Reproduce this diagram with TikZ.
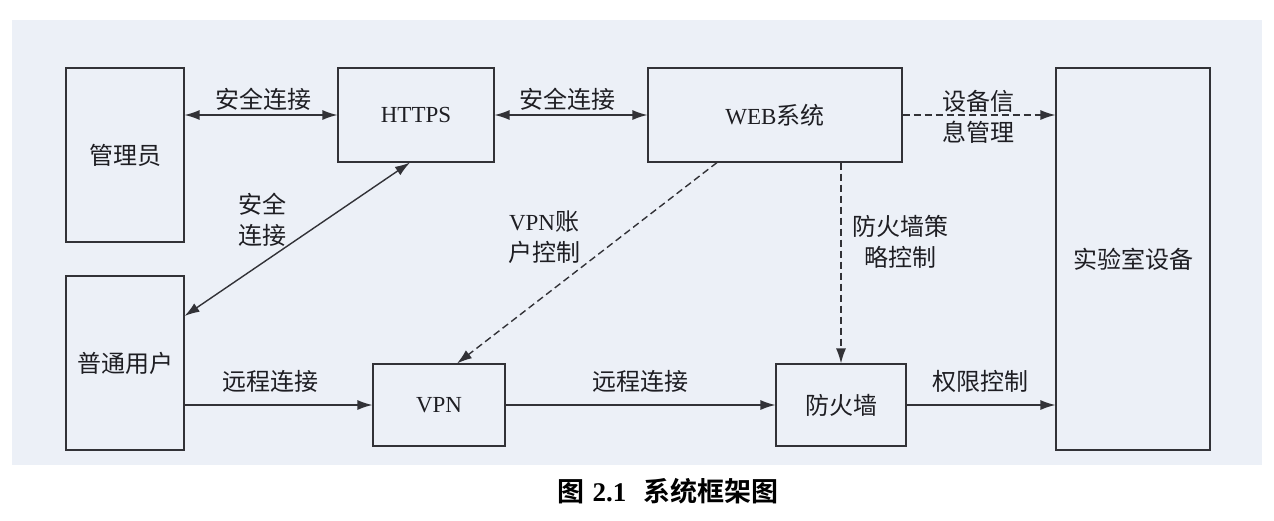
\documentclass[tikz,border=0pt]{standalone}
\usepackage{fontspec}
\setmainfont{Liberation Serif}
\newfontfamily\cjk{Noto Sans CJK SC}
\newfontfamily\cjkb{Noto Sans CJK SC}[BoldFont={* Bold}]
\usetikzlibrary{arrows.meta,calc}
\definecolor{bgc}{RGB}{236,240,247}
\definecolor{linec}{RGB}{50,50,55}
\definecolor{txtc}{RGB}{30,30,35}
\tikzset{
  box/.style={draw=linec, line width=1.1pt, inner sep=0pt, text=txtc,
    font=\fontsize{23}{31}\selectfont},
  lbl/.style={text=txtc, align=center, inner sep=0pt,
    font=\fontsize{24}{31}\selectfont\cjk},
  conn/.style={draw=linec, line width=1.4pt},
  tip/.style={-{Latex[length=15pt,width=10pt]}},
  dtip/.style={{Latex[length=15pt,width=10pt]}-{Latex[length=15pt,width=10pt]}},
  dash6/.style={dash pattern=on 7pt off 4pt}
}
\begin{document}
\begin{tikzpicture}[x=1pt,y=-1pt]
\useasboundingbox (0,0) rectangle (1274,520);
\fill[white] (0,0) rectangle (1274,520);
\fill[bgc] (12,20) rectangle (1262,465);

\node[box, minimum width=118pt, minimum height=174pt] (adm) at (125,155) {\fontsize{24}{31}\selectfont\cjk 管理员};
\node[box, minimum width=156pt, minimum height=94pt] (https) at (416,115) {HTTPS};
\node[box, minimum width=254pt, minimum height=94pt] (web) at (775,115) {WEB{\fontsize{24}{31}\selectfont\cjk 系统}};
\node[box, minimum width=154pt, minimum height=382pt] (lab) at (1133,259) {\fontsize{24}{31}\selectfont\cjk 实验室设备};
\node[box, minimum width=118pt, minimum height=174pt] (user) at (125,363) {\fontsize{24}{31}\selectfont\cjk 普通用户};
\node[box, minimum width=132pt, minimum height=82pt] (vpn) at (439,405) {VPN};
\node[box, minimum width=130pt, minimum height=82pt] (fw) at (841,405) {\fontsize{24}{31}\selectfont\cjk 防火墙};

\draw[conn, dtip] (adm.east |- https.west) -- (https.west);
\draw[conn, dtip] (https.east) -- (web.west);
\draw[conn, tip, dash6] (web.east) -- (lab.west |- web.east);
\draw[conn, dtip] ([yshift=47pt]user.east) -- ([xshift=-6pt]https.south);
\draw[conn, tip, dash6] ([xshift=-58pt]web.south) -- ([xshift=18pt]vpn.north);
\draw[conn, tip, dash6] (fw.north |- web.south) -- (fw.north);
\draw[conn, tip] (user.east |- vpn.west) -- (vpn.west);
\draw[conn, tip] (vpn.east) -- (fw.west);
\draw[conn, tip] (fw.east) -- (lab.west |- fw.east);

\node[lbl] (l1) at (263,99) {安全连接};
\node[lbl] (l2) at (567,99) {安全连接};
\node[lbl] (l3) at (978,117) {设备信\\息管理};
\node[lbl] (l4) at (262,220) {安全\\连接};
\node[lbl] (l5) at (544,237) {{\fontsize{23}{31}\fontspec{Liberation Serif}VPN}账\\户控制};
\node[lbl] (l6) at (900,242) {防火墙策\\略控制};
\node[lbl] (l7) at (270,381) {远程连接};
\node[lbl] (l8) at (640,381) {远程连接};
\node[lbl] (l9) at (980,381) {权限控制};

\node[text=black, inner sep=0pt, font=\fontsize{27}{30}\selectfont] (cap) at (668,491)
  {\cjkb\bfseries 图\hspace{8pt}{\fontspec{Liberation Serif}\bfseries 2.1}\hspace{17pt}系统框架图};
\end{tikzpicture}
\end{document}
